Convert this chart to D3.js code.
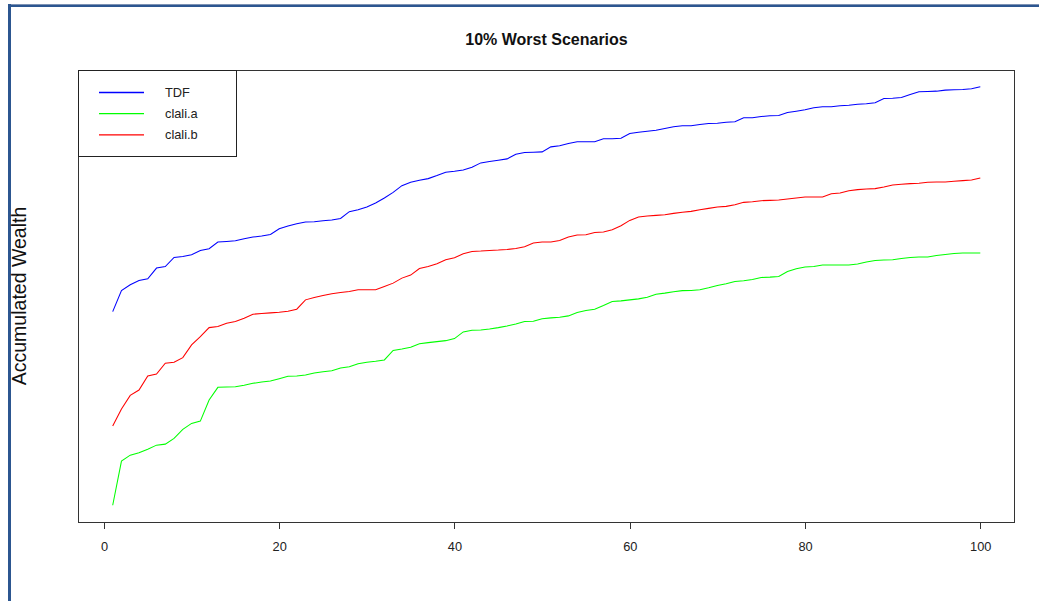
<!DOCTYPE html>
<html>
<head>
<meta charset="utf-8">
<script src="https://cdn.jsdelivr.net/npm/d3@7"></script>
<style>
  html, body { margin: 0; padding: 0; background: #fff; }
  svg { display: block; font-family: "Liberation Sans", Arial, sans-serif; }
</style>
</head>
<body>
<svg id="chart" width="1039" height="601"></svg>
<script>
// Accumulated wealth along 100 steps for each strategy (10% worst scenarios)
const steps = d3.range(1, 101);

const tdf = [
  248.3, 269.3, 275.0, 279.3, 281.0, 291.7, 293.3, 302.3, 303.3, 305.0,
  309.3, 311.0, 317.7, 318.3, 319.0, 321.0, 322.7, 323.7, 325.3, 331.0,
  333.7, 336.0, 337.7, 338.0, 339.0, 339.7, 341.3, 348.0, 350.0, 352.7,
  356.7, 361.7, 367.3, 374.0, 377.3, 379.3, 381.0, 384.0, 387.3, 388.3,
  389.7, 392.3, 396.7, 398.0, 399.3, 400.7, 405.3, 407.0, 407.3, 407.7,
  412.7, 413.7, 416.0, 417.7, 417.7, 417.7, 420.7, 420.7, 421.3, 426.0,
  427.3, 428.3, 429.3, 431.0, 432.7, 433.7, 433.7, 435.0, 436.0, 436.3,
  437.3, 437.7, 441.7, 441.7, 443.0, 443.7, 444.0, 447.0, 448.3, 449.7,
  451.7, 452.7, 452.7, 453.7, 454.3, 455.3, 455.7, 456.7, 461.0, 461.3,
  462.0, 465.0, 467.7, 468.0, 468.3, 469.3, 469.7, 470.0, 470.7, 472.7
];

const claliA = [
   55.0,  99.0, 105.0, 107.3, 111.0, 115.0, 116.0, 121.7, 130.7, 136.7,
  139.0, 160.0, 172.7, 173.0, 173.3, 174.7, 176.7, 178.0, 179.0, 181.3,
  183.7, 184.0, 185.0, 187.0, 188.3, 189.3, 192.0, 193.3, 196.3, 197.7,
  198.7, 200.0, 209.5, 211.0, 212.7, 216.3, 217.3, 218.3, 219.3, 221.3,
  228.0, 229.7, 230.0, 231.0, 232.3, 234.0, 236.0, 238.3, 238.7, 241.2,
  242.0, 242.7, 244.0, 247.3, 249.3, 250.7, 254.3, 258.3, 259.0, 260.0,
  261.0, 262.7, 265.7, 266.7, 268.0, 269.2, 269.3, 270.0, 272.0, 274.3,
  276.0, 278.3, 279.0, 280.3, 282.3, 282.7, 283.3, 288.3, 291.0, 292.7,
  293.3, 294.7, 294.7, 294.7, 294.7, 295.7, 297.7, 299.3, 299.7, 300.0,
  301.3, 302.3, 302.7, 302.7, 304.3, 305.3, 306.3, 306.7, 306.7, 306.7
];

const claliB = [
  134.0, 151.0, 164.7, 170.0, 184.0, 186.0, 196.7, 197.7, 202.3, 215.0,
  223.3, 232.3, 233.3, 236.7, 238.3, 241.7, 245.7, 246.3, 247.0, 247.7,
  248.7, 250.7, 260.0, 262.3, 264.3, 266.0, 267.3, 268.3, 270.0, 270.0,
  270.0, 273.3, 276.7, 281.7, 284.7, 291.3, 293.3, 296.0, 300.0, 302.0,
  306.0, 308.3, 308.7, 309.3, 309.7, 310.3, 311.3, 313.0, 316.7, 317.7,
  317.7, 319.3, 322.7, 324.7, 325.0, 327.3, 327.7, 330.0, 334.0, 339.3,
  342.7, 343.7, 344.3, 345.0, 346.3, 347.5, 348.3, 350.0, 351.3, 352.7,
  353.3, 355.0, 357.3, 358.0, 359.0, 359.3, 359.7, 360.7, 361.7, 362.7,
  362.7, 362.7, 366.0, 366.7, 369.0, 370.0, 370.7, 371.0, 372.7, 374.7,
  375.3, 376.0, 376.3, 377.3, 377.7, 377.7, 378.3, 379.0, 379.7, 381.7
];

const seriesNames = ["TDF", "clali.a", "clali.b"];
const seriesColors = ["#0000ff", "#00ff00", "#ff0000"];
const xTicks = [0, 20, 40, 60, 80, 100];
const titleText = "10% Worst Scenarios";
const yLabel = "Accumulated Wealth";

const series = [tdf, claliA, claliB];

const svg = d3.select("#chart");
const W = 1039, H = 601;
const plot = { left: 78, right: 1015, top: 70, bottom: 522 };

svg.append("rect").attr("width", W).attr("height", H).attr("fill", "#fff");

// page frame (top and left rules)
svg.append("rect").attr("x", 8).attr("y", 4).attr("width", W - 8).attr("height", 3).attr("fill", "#2c5690");
svg.append("rect").attr("x", 8).attr("y", 4).attr("width", W - 8).attr("height", 1).attr("fill", "#7d92b4");
svg.append("rect").attr("x", 8).attr("y", 4).attr("width", 3).attr("height", H - 4).attr("fill", "#2c5690");

// scales with 4% padding on both ends
const xPad = (d3.max(steps) - d3.min(steps)) * 0.04;
const x = d3.scaleLinear()
  .domain([d3.min(steps) - xPad, d3.max(steps) + xPad])
  .range([plot.left, plot.right]);

const all = series.flat();
const [yMin, yMax] = d3.extent(all);
const yPad = (yMax - yMin) * 0.04;
const y = d3.scaleLinear()
  .domain([yMin - yPad, yMax + yPad])
  .range([plot.bottom, plot.top]);

// x axis
const xAxis = d3.axisBottom(x)
  .tickValues(xTicks)
  .tickFormat(d3.format("d"))
  .tickSize(7)
  .tickSizeOuter(0)
  .tickPadding(12.5);

const gx = svg.append("g")
  .attr("transform", `translate(0,${plot.bottom})`)
  .call(xAxis);
gx.select(".domain").remove();
gx.selectAll(".tick line").attr("stroke", "#333").attr("shape-rendering", "crispEdges");
gx.selectAll(".tick text")
  .attr("fill", "#222")
  .style("font-size", "12.8px")
  .style("font-family", "'Liberation Sans', Arial, sans-serif");

// lines
const line = d3.line()
  .x((d, i) => x(steps[i]))
  .y(d => y(d));

series.forEach((vals, k) => {
  svg.append("path")
    .datum(vals)
    .attr("fill", "none")
    .attr("stroke", seriesColors[k])
    .attr("stroke-width", 1.05)
    .attr("d", line);
});

// plot box
svg.append("rect")
  .attr("x", plot.left + 0.5).attr("y", plot.top + 0.5)
  .attr("width", plot.right - plot.left - 1)
  .attr("height", plot.bottom - plot.top)
  .attr("fill", "none").attr("stroke", "#333").attr("stroke-width", 1);

// title
svg.append("text")
  .attr("x", (plot.left + plot.right) / 2)
  .attr("y", 45)
  .attr("text-anchor", "middle")
  .attr("font-weight", "bold")
  .attr("font-size", 16)
  .attr("fill", "#111")
  .text(titleText);

// y axis label
svg.append("text")
  .attr("transform", `translate(25.5,${(plot.top + plot.bottom) / 2}) rotate(-90)`)
  .attr("text-anchor", "middle")
  .attr("font-size", 19.5)
  .attr("fill", "#111")
  .text(yLabel);

// legend
const legend = svg.append("g");
legend.append("rect")
  .attr("x", 78.5).attr("y", 70.5).attr("width", 158).attr("height", 86)
  .attr("fill", "#fff").attr("stroke", "#222").attr("stroke-width", 1);
seriesNames.forEach((name, k) => {
  const ly = 92.5 + k * 21.2;
  legend.append("line")
    .attr("x1", 99).attr("x2", 144).attr("y1", ly).attr("y2", ly)
    .attr("stroke", seriesColors[k]).attr("stroke-width", 1.3);
  legend.append("text")
    .attr("x", 165).attr("y", ly + 4.5)
    .attr("font-size", 12.8).attr("fill", "#222")
    .text(name);
});
</script>
</body>
</html>
